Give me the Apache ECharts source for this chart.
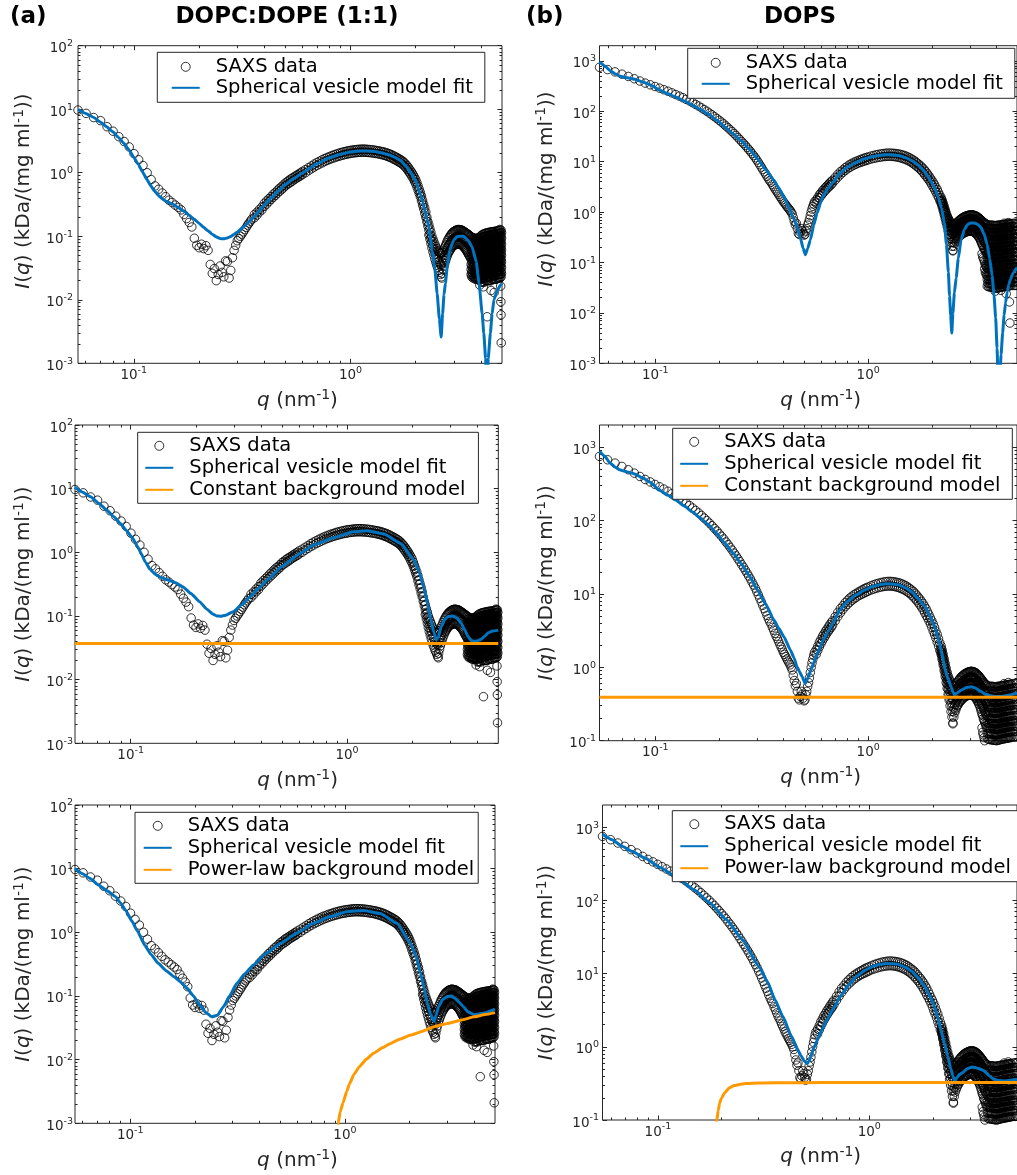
<!DOCTYPE html>
<html><head><meta charset="utf-8">
<script src="https://cdn.jsdelivr.net/npm/echarts@6/dist/echarts.min.js"></script>
<style>html,body{margin:0;padding:0;background:#fff}#c{width:1017px;height:1175px}</style>
</head><body><div id="c"></div><script>
// ---------------- titles / legend names ----------------
const panelTags = ['(a)', '(b)'];
const columnTitles = ['DOPC:DOPE (1:1)', 'DOPS'];
const NAME_DATA = 'SAXS data', NAME_FIT = 'Spherical vesicle model fit';
const NAME_CONST = 'Constant background model', NAME_POW = 'Power-law background model';

// ---------------- tick values ----------------
const xMajorTicks = [0.1, 1];
const xMinorTicks = [0.06,0.07,0.08,0.09,0.2,0.3,0.4,0.5,0.6,0.7,0.8,0.9,2,3,4,5];
const yMajorA = [0.001,0.01,0.1,1,10,100];
const yMajorB1 = [0.001,0.01,0.1,1,10,100,1000];
const yMajorB23 = [0.1,1,10,100,1000];
const minorMult = [2,3,4,5,6,7,8,9];

// ---------------- SAXS data, DOPC:DOPE (1:1) ----------------
const saxsA_low = [[0.0553,9.7],[0.0603,8.6],[0.0653,7.4],[0.0703,6.6],[0.0753,5.3],[0.0803,4.5],[0.0853,3.7],[0.0903,3.1],[0.0953,2.55],[0.1003,2.0],[0.1053,1.6],[0.1103,1.3],[0.1153,1.0],[0.1203,0.78],[0.1253,0.62],[0.1303,0.55],[0.1353,0.48],[0.1403,0.42],[0.1453,0.37],[0.1503,0.34],[0.1553,0.31],[0.1603,0.285],[0.1653,0.26],[0.1703,0.22],[0.1753,0.19],[0.1803,0.165],[0.1853,0.14],[0.1903,0.093],[0.1953,0.072],[0.2003,0.066],[0.2053,0.075],[0.2103,0.064],[0.2153,0.071],[0.2203,0.06],[0.2253,0.036],[0.2303,0.026],[0.2353,0.031],[0.2403,0.02],[0.2453,0.025],[0.2503,0.034],[0.2553,0.027],[0.2603,0.023],[0.2653,0.041],[0.2703,0.04],[0.2753,0.022],[0.2803,0.029],[0.2853,0.046],[0.2903,0.06],[0.2953,0.072],[0.3003,0.085],[0.3053,0.092],[0.3103,0.1],[0.3153,0.108],[0.3203,0.117],[0.3253,0.127],[0.3303,0.138],[0.3353,0.15],[0.3403,0.161],[0.3453,0.173],[0.3503,0.186]];
// rows: [q, upper value, lower value]
const saxsA_mid = [[0.36,0.22,0.195],[0.37,0.24,0.215],[0.38,0.265,0.24],[0.39,0.29,0.26],[0.40,0.33,0.295],[0.41,0.36,0.32],[0.42,0.39,0.35],[0.43,0.42,0.38],[0.44,0.46,0.41],[0.45,0.49,0.44],[0.46,0.53,0.475],[0.47,0.57,0.51],[0.48,0.6,0.54],[0.49,0.64,0.575],[0.50,0.69,0.62],[0.51,0.72,0.65],[0.52,0.76,0.68],[0.53,0.8,0.71],[0.54,0.83,0.74],[0.55,0.86,0.78],[0.56,0.9,0.81],[0.57,0.93,0.84],[0.58,0.97,0.87],[0.59,1.0,0.9],[0.60,1.05,0.94],[0.62,1.12,1.0],[0.64,1.2,1.08],[0.66,1.28,1.15],[0.68,1.37,1.23],[0.70,1.45,1.3],[0.72,1.52,1.37],[0.74,1.6,1.43],[0.76,1.67,1.5],[0.78,1.74,1.56],[0.80,1.8,1.62],[0.82,1.86,1.67],[0.84,1.92,1.72],[0.86,1.97,1.77],[0.88,2.02,1.81],[0.90,2.07,1.85],[0.92,2.11,1.89],[0.94,2.15,1.93],[0.96,2.19,1.96],[0.98,2.22,1.99],[1.00,2.25,2.01],[1.02,2.27,2.04],[1.04,2.29,2.06],[1.06,2.31,2.07],[1.08,2.33,2.09],[1.10,2.34,2.1],[1.12,2.35,2.1],[1.14,2.35,2.11],[1.16,2.35,2.1],[1.18,2.34,2.1],[1.20,2.33,2.09],[1.225,2.32,2.07],[1.25,2.3,2.06],[1.275,2.28,2.04],[1.30,2.26,2.02],[1.325,2.23,2.0],[1.35,2.2,1.98],[1.375,2.18,1.95],[1.40,2.15,1.92],[1.425,2.12,1.89],[1.45,2.08,1.86],[1.475,2.04,1.82],[1.50,2.0,1.78],[1.525,1.96,1.74],[1.55,1.91,1.7],[1.575,1.86,1.65],[1.60,1.81,1.61],[1.625,1.76,1.56],[1.65,1.71,1.52],[1.675,1.66,1.47],[1.70,1.61,1.43],[1.725,1.56,1.38],[1.75,1.5,1.33],[1.775,1.43,1.27],[1.80,1.36,1.2],[1.825,1.29,1.13],[1.85,1.21,1.06],[1.875,1.13,0.99],[1.90,1.06,0.93],[1.925,0.99,0.86],[1.95,0.92,0.8],[1.975,0.85,0.73],[2.00,0.78,0.67],[2.025,0.7,0.6],[2.05,0.62,0.53],[2.075,0.55,0.47],[2.10,0.49,0.42],[2.125,0.43,0.36],[2.15,0.37,0.31],[2.175,0.32,0.27],[2.20,0.28,0.23],[2.225,0.24,0.2],[2.25,0.2,0.17],[2.275,0.17,0.145]];
// rows: [q, values read across the noisy band]
const saxsA_high = [[2.300,0.15,0.125,0.105],[2.325,0.13,0.108,0.09],[2.350,0.115,0.094,0.077],[2.375,0.1,0.082,0.066],[2.400,0.09,0.072,0.057],[2.425,0.082,0.064,0.05],[2.450,0.075,0.057,0.044],[2.475,0.069,0.052,0.039],[2.500,0.064,0.047,0.035],[2.525,0.06,0.043,0.032],[2.550,0.057,0.04,0.029],[2.575,0.055,0.038,0.027],[2.600,0.054,0.036,0.025],[2.625,0.054,0.035,0.023],[2.650,0.056,0.038,0.026],[2.675,0.059,0.042,0.03],[2.700,0.063,0.046,0.034],[2.725,0.068,0.05,0.038],[2.750,0.073,0.055,0.042],[2.775,0.079,0.06,0.046],[2.800,0.085,0.065,0.05],[2.825,0.09,0.07,0.054],[2.850,0.095,0.074,0.057],[2.875,0.1,0.078,0.06],[2.900,0.105,0.082,0.063],[2.925,0.109,0.085,0.066],[2.950,0.113,0.088,0.068],[2.975,0.116,0.09,0.07],[3.000,0.119,0.093,0.072],[3.025,0.121,0.095,0.073],[3.050,0.123,0.096,0.074],[3.075,0.125,0.097,0.075],[3.100,0.126,0.098,0.075],[3.125,0.127,0.099,0.076],[3.150,0.128,0.099,0.076],[3.175,0.127,0.099,0.075],[3.200,0.126,0.098,0.075],[3.225,0.126,0.097,0.074],[3.250,0.125,0.096,0.073],[3.275,0.124,0.095,0.072],[3.300,0.122,0.093,0.07],[3.325,0.12,0.091,0.068],[3.350,0.118,0.089,0.066],[3.375,0.116,0.087,0.064],[3.400,0.114,0.084,0.062],[3.425,0.112,0.082,0.06],[3.450,0.11,0.079,0.057],[3.475,0.108,0.077,0.055],[3.500,0.106,0.074,0.052],[3.525,0.104,0.072,0.05],[3.550,0.102,0.07,0.048],[3.575,0.1,0.068,0.046],
[3.600,0.098,0.08,0.066,0.054,0.044,0.036,0.03,0.025],[3.625,0.09,0.073,0.06,0.049,0.04,0.033,0.027,0.023],[3.650,0.096,0.079,0.064,0.052,0.043,0.035,0.029,0.024],[3.675,0.088,0.072,0.059,0.048,0.039,0.032,0.026,0.022],[3.700,0.094,0.077,0.063,0.051,0.042,0.034,0.028,0.023],[3.725,0.087,0.071,0.058,0.047,0.038,0.031,0.026,0.022],[3.750,0.093,0.076,0.062,0.05,0.041,0.034,0.028,0.023],[3.775,0.086,0.07,0.057,0.047,0.038,0.031,0.025,0.021],[3.800,0.092,0.075,0.061,0.05,0.041,0.033,0.027,0.022],[3.825,0.086,0.07,0.057,0.046,0.038,0.031,0.025,0.021],[3.850,0.093,0.076,0.062,0.05,0.041,0.033,0.027,0.022],[3.875,0.087,0.071,0.058,0.047,0.038,0.031,0.025,0.021],[3.900,0.095,0.077,0.063,0.051,0.042,0.034,0.028,0.022],[3.925,0.089,0.072,0.059,0.048,0.039,0.032,0.026,0.021],[3.950,0.098,0.08,0.065,0.053,0.043,0.035,0.028,0.022],[3.975,0.091,0.074,0.06,0.049,0.04,0.032,0.026,0.021],
[4.000,0.102,0.083,0.068,0.055,0.045,0.036,0.029,0.023,0.019],[4.025,0.094,0.077,0.062,0.051,0.041,0.034,0.027,0.021],[4.050,0.106,0.086,0.07,0.057,0.046,0.037,0.03,0.024,0.019],[4.075,0.097,0.079,0.064,0.052,0.042,0.034,0.028,0.022],[4.100,0.108,0.088,0.071,0.058,0.047,0.038,0.031,0.025,0.019],[4.125,0.099,0.08,0.065,0.053,0.043,0.035,0.028,0.022],[4.150,0.11,0.089,0.072,0.059,0.048,0.039,0.031,0.025,0.019],[4.175,0.1,0.081,0.066,0.054,0.044,0.035,0.028,0.022],[4.200,0.112,0.091,0.074,0.06,0.049,0.039,0.032,0.025,0.02],[4.225,0.101,0.082,0.067,0.054,0.044,0.036,0.029,0.023],[4.250,0.113,0.092,0.075,0.061,0.049,0.04,0.032,0.025,0.02],[4.275,0.102,0.083,0.067,0.055,0.044,0.036,0.029,0.023],[4.300,0.114,0.093,0.075,0.061,0.05,0.04,0.032,0.026,0.02],[4.325,0.103,0.084,0.068,0.055,0.045,0.036,0.029,0.023],[4.350,0.115,0.093,0.076,0.062,0.05,0.04,0.033,0.026,0.02],[4.375,0.104,0.085,0.069,0.056,0.045,0.037,0.03,0.023],[4.400,0.116,0.094,0.077,0.062,0.05,0.041,0.033,0.026,0.02],[4.425,0.105,0.085,0.069,0.056,0.046,0.037,0.03,0.023],[4.450,0.117,0.095,0.077,0.063,0.051,0.041,0.033,0.026,0.02],[4.475,0.106,0.086,0.07,0.057,0.046,0.037,0.03,0.024],[4.500,0.118,0.096,0.078,0.063,0.051,0.042,0.034,0.027,0.021],[4.525,0.107,0.087,0.071,0.058,0.047,0.038,0.03,0.024],[4.550,0.118,0.096,0.078,0.064,0.052,0.042,0.034,0.027,0.021],[4.575,0.108,0.088,0.071,0.058,0.047,0.038,0.031,0.024],[4.600,0.119,0.097,0.079,0.064,0.052,0.042,0.034,0.027,0.021],[4.625,0.108,0.088,0.072,0.058,0.047,0.038,0.031,0.024],[4.650,0.12,0.097,0.079,0.064,0.052,0.042,0.034,0.027,0.021],[4.675,0.109,0.089,0.072,0.059,0.048,0.039,0.031,0.024],[4.700,0.12,0.098,0.08,0.065,0.053,0.043,0.035,0.027,0.021],[4.725,0.11,0.089,0.073,0.059,0.048,0.039,0.031,0.025],[4.750,0.121,0.099,0.08,0.065,0.053,0.043,0.035,0.028,0.022],[4.775,0.11,0.09,0.073,0.059,0.048,0.039,0.032,0.025],[4.800,0.122,0.099,0.081,0.066,0.053,0.043,0.035,0.028,0.022],[4.825,0.111,0.09,0.073,0.06,0.048,0.039,0.032,0.025],[4.850,0.123,0.1,0.081,0.066,0.054,0.044,0.035,0.028,0.022],[4.875,0.112,0.091,0.074,0.06,0.049,0.04,0.032,0.025],[4.900,0.124,0.101,0.082,0.067,0.054,0.044,0.035,0.028,0.022],[4.925,0.113,0.092,0.075,0.061,0.049,0.04,0.032,0.025],[4.950,0.125,0.102,0.083,0.067,0.055,0.044,0.036,0.028,0.023],[4.975,0.114,0.093,0.075,0.061,0.05,0.04,0.032,0.026]];
const saxsA_out = [[2.64,0.022],[3.74,0.03],[3.95,0.017],[4.1,0.016],[4.27,0.0054],[4.45,0.014],[4.6,0.013],[4.88,0.128],[4.93,0.0164],[4.94,0.0093],[4.95,0.0058],[4.96,0.0021]];

// ---------------- SAXS data, DOPS ----------------
const saxsB_low = [[0.0547,746],[0.0597,672],[0.0647,605],[0.0697,545],[0.0747,491],[0.0797,442],[0.0847,398],[0.0897,362],[0.0947,335],[0.0997,310],[0.1047,288],[0.1097,268],[0.1147,250],[0.1197,232],[0.1247,215],[0.1297,200],[0.1347,186],[0.1397,172],[0.1447,160],[0.1497,148],[0.1547,137],[0.1597,127],[0.1647,117],[0.1697,108],[0.1747,100],[0.1797,92],[0.1847,85],[0.1897,78],[0.1947,72],[0.1997,66],[0.2047,61],[0.2097,56],[0.2147,51],[0.2197,47],[0.2247,43],[0.2297,39.5],[0.2347,36],[0.2397,33],[0.2447,30],[0.2497,27.5],[0.2547,25],[0.2597,23],[0.2647,21],[0.2697,19.2],[0.2747,17.5],[0.2797,16],[0.2847,14.5],[0.2897,13.2],[0.2947,12],[0.2997,10.8],[0.3047,9.7],[0.3097,8.7],[0.3147,7.8],[0.3197,7.0],[0.3247,6.3],[0.3297,5.7],[0.3347,5.1],[0.3397,4.6],[0.3447,4.2],[0.3497,3.9],[0.3547,3.5],[0.3597,3.2],[0.3647,2.9],[0.3697,2.65],[0.3747,2.45],[0.3797,2.25],[0.3847,2.05],[0.3897,1.9],[0.3947,1.75],[0.3997,1.6],[0.4047,1.5],[0.4097,1.4],[0.4147,1.3],[0.4197,1.22],[0.4247,1.15],[0.4297,1.08],[0.4347,1.0],[0.4397,0.92],[0.4447,0.78],[0.4497,0.66],[0.4547,0.56],[0.4597,0.6],[0.4647,0.47],[0.4697,0.38],[0.4747,0.36],[0.4797,0.4],[0.4847,0.47],[0.4897,0.43],[0.4947,0.38],[0.4997,0.35],[0.5047,0.36],[0.5097,0.42],[0.5147,0.47],[0.5197,0.55],[0.5247,0.62],[0.5297,0.72],[0.5347,0.85],[0.5397,1.0],[0.5447,1.15],[0.5497,1.3],[0.5547,1.45],[0.5597,1.6]];
const saxsB_mid = [[0.57,1.75,1.5],[0.58,1.95,1.7],[0.59,2.2,1.9],[0.60,2.4,2.1],[0.61,2.65,2.3],[0.62,2.85,2.5],[0.63,3.1,2.7],[0.64,3.3,2.9],[0.65,3.55,3.1],[0.66,3.8,3.3],[0.67,4.05,3.5],[0.68,4.3,3.75],[0.70,4.9,4.3],[0.72,5.6,4.9],[0.74,6.3,5.5],[0.76,6.9,6.1],[0.78,7.6,6.7],[0.80,8.2,7.2],[0.82,8.8,7.7],[0.84,9.3,8.2],[0.86,9.8,8.6],[0.88,10.2,9.0],[0.90,10.6,9.4],[0.92,11.0,9.7],[0.94,11.4,10.0],[0.96,11.8,10.3],[0.98,12.1,10.6],[1.00,12.4,10.9],[1.03,12.9,11.3],[1.06,13.3,11.6],[1.09,13.7,11.9],[1.12,14.0,12.2],[1.15,14.3,12.4],[1.18,14.5,12.6],[1.21,14.7,12.7],[1.24,14.8,12.8],[1.27,14.8,12.8],[1.30,14.7,12.7],[1.33,14.6,12.6],[1.36,14.4,12.4],[1.39,14.2,12.2],[1.42,13.9,11.9],[1.45,13.6,11.6],[1.48,13.2,11.3],[1.51,12.8,10.9],[1.54,12.3,10.5],[1.57,11.8,10.1],[1.60,11.3,9.6],[1.63,10.8,9.1],[1.66,10.2,8.6],[1.69,9.6,8.1],[1.72,9.0,7.6],[1.75,8.5,7.1],[1.78,7.9,6.6],[1.81,7.4,6.1],[1.84,6.8,5.6],[1.87,6.3,5.1],[1.90,5.7,4.7],[1.93,5.2,4.3],[1.96,4.7,3.9],[1.99,4.3,3.5],[2.02,3.9,3.1],[2.05,3.5,2.8],[2.08,3.1,2.5],[2.11,2.8,2.2],[2.14,2.45,1.95],[2.17,2.15,1.7]];
const saxsB_high = [[2.200,1.95,1.82,1.7,1.6,1.5],[2.225,1.72,1.6,1.48,1.38,1.28],[2.250,1.5,1.38,1.27,1.17,1.08],[2.275,1.3,1.19,1.08,0.99,0.9],[2.300,1.12,1.02,0.92,0.83,0.75],[2.325,0.97,0.87,0.78,0.7,0.62],[2.350,0.85,0.75,0.67,0.59,0.52],[2.375,0.76,0.66,0.58,0.5,0.43],[2.400,0.7,0.6,0.51,0.43,0.36],[2.425,0.65,0.55,0.46,0.37,0.3],[2.450,0.61,0.51,0.42,0.33,0.25],[2.475,0.58,0.47,0.38,0.29,0.21],[2.500,0.56,0.45,0.36,0.25,0.175],[2.525,0.56,0.46,0.37,0.28,0.21],[2.550,0.57,0.47,0.39,0.31,0.24],[2.575,0.59,0.49,0.41,0.33,0.26],[2.600,0.61,0.51,0.42,0.35,0.28],[2.625,0.63,0.53,0.44,0.37,0.3],[2.650,0.66,0.55,0.46,0.38,0.31],[2.675,0.68,0.57,0.48,0.4,0.33],[2.700,0.71,0.6,0.5,0.41,0.34],[2.725,0.73,0.61,0.51,0.42,0.35],[2.750,0.75,0.63,0.53,0.44,0.36],[2.775,0.77,0.65,0.54,0.45,0.37],[2.800,0.79,0.66,0.55,0.46,0.38],[2.825,0.8,0.67,0.56,0.47,0.39],[2.850,0.82,0.69,0.57,0.48,0.4],[2.875,0.83,0.7,0.58,0.48,0.4],[2.900,0.84,0.7,0.59,0.49,0.41],[2.925,0.85,0.71,0.6,0.5,0.41],[2.950,0.86,0.72,0.6,0.5,0.42],[2.975,0.87,0.73,0.61,0.51,0.42],[3.000,0.87,0.73,0.61,0.51,0.42],[3.025,0.88,0.73,0.61,0.51,0.42],[3.050,0.88,0.73,0.61,0.51,0.42],[3.075,0.88,0.73,0.61,0.51,0.42],[3.100,0.87,0.72,0.6,0.5,0.41],[3.125,0.87,0.72,0.6,0.5,0.41],[3.150,0.86,0.71,0.59,0.49,0.4],[3.175,0.85,0.7,0.58,0.48,0.39],[3.200,0.84,0.69,0.57,0.47,0.38],[3.225,0.82,0.68,0.56,0.46,0.37],[3.250,0.81,0.66,0.54,0.44,0.35],[3.275,0.79,0.65,0.53,0.43,0.34],[3.300,0.77,0.63,0.51,0.41,0.32],[3.325,0.75,0.61,0.49,0.39,0.31],[3.350,0.73,0.59,0.47,0.37,0.29],[3.375,0.71,0.57,0.45,0.35,0.27],[3.400,0.69,0.55,0.43,0.33,0.25],[3.425,0.67,0.53,0.41,0.31,0.23,0.15],[3.450,0.65,0.51,0.4,0.3,0.22,0.13],[3.475,0.63,0.49,0.38,0.28,0.2,0.12],[3.500,0.62,0.48,0.37,0.27,0.19,0.11],[3.525,0.6,0.46,0.35,0.25,0.18,0.1,0.075],[3.550,0.59,0.45,0.34,0.24,0.17,0.09,0.065],[3.575,0.58,0.44,0.33,0.23,0.16,0.085,0.06],[3.600,0.57,0.43,0.32,0.22,0.15,0.08,0.055],
[3.625,0.48,0.34,0.245,0.175,0.125,0.09,0.064,0.046,0.034],[3.650,0.56,0.4,0.29,0.21,0.15,0.105,0.075,0.054,0.039],[3.675,0.47,0.34,0.24,0.17,0.124,0.089,0.063,0.045,0.033],[3.700,0.55,0.4,0.29,0.2,0.148,0.104,0.074,0.053,0.038],[3.725,0.48,0.34,0.245,0.175,0.125,0.09,0.063,0.045,0.033],[3.750,0.55,0.39,0.28,0.2,0.147,0.103,0.073,0.052,0.038],[3.775,0.47,0.33,0.24,0.17,0.123,0.088,0.062,0.044,0.032],[3.800,0.55,0.39,0.28,0.2,0.146,0.103,0.073,0.052,0.037],[3.825,0.48,0.34,0.24,0.172,0.124,0.088,0.062,0.044,0.032],[3.850,0.55,0.39,0.28,0.2,0.145,0.102,0.072,0.051,0.037],[3.875,0.47,0.33,0.24,0.17,0.122,0.087,0.061,0.044,0.032],[3.900,0.54,0.39,0.28,0.2,0.144,0.101,0.072,0.051,0.037],[3.925,0.47,0.33,0.24,0.17,0.122,0.087,0.061,0.043,0.031],[3.950,0.54,0.38,0.28,0.2,0.144,0.101,0.071,0.05,0.036],[3.975,0.46,0.33,0.235,0.168,0.12,0.086,0.06,0.043,0.031],[4.000,0.54,0.38,0.28,0.2,0.143,0.1,0.071,0.05,0.036],[4.025,0.47,0.33,0.24,0.17,0.121,0.086,0.061,0.043,0.031],[4.050,0.55,0.39,0.28,0.2,0.144,0.101,0.071,0.05,0.036],[4.075,0.47,0.33,0.24,0.17,0.122,0.087,0.061,0.044,0.031],[4.100,0.55,0.39,0.28,0.2,0.145,0.102,0.072,0.051,0.037],[4.125,0.48,0.34,0.24,0.172,0.123,0.088,0.062,0.044,0.032],[4.150,0.55,0.39,0.28,0.2,0.146,0.103,0.073,0.051,0.037],[4.175,0.48,0.34,0.245,0.174,0.124,0.089,0.063,0.045,0.032],[4.200,0.56,0.4,0.29,0.2,0.147,0.104,0.073,0.052,0.037],[4.225,0.48,0.34,0.245,0.175,0.125,0.09,0.063,0.045,0.033],[4.250,0.56,0.4,0.29,0.21,0.148,0.105,0.074,0.052,0.038],[4.275,0.49,0.35,0.25,0.176,0.126,0.09,0.064,0.046,0.033],[4.300,0.56,0.4,0.29,0.21,0.149,0.106,0.075,0.053,0.038],[4.325,0.49,0.35,0.25,0.177,0.127,0.091,0.064,0.046,0.033],[4.350,0.57,0.41,0.29,0.21,0.15,0.106,0.075,0.053,0.038],[4.375,0.49,0.35,0.25,0.178,0.128,0.091,0.065,0.046,0.033],[4.400,0.57,0.41,0.29,0.21,0.151,0.107,0.076,0.054,0.039],[4.425,0.5,0.35,0.25,0.179,0.128,0.092,0.065,0.047,0.034],[4.450,0.57,0.41,0.3,0.21,0.152,0.108,0.076,0.054,0.039],[4.475,0.5,0.36,0.255,0.18,0.129,0.092,0.066,0.047,0.034],[4.500,0.58,0.41,0.3,0.21,0.153,0.108,0.077,0.055,0.039],[4.525,0.5,0.36,0.255,0.181,0.13,0.093,0.066,0.047,0.034],[4.550,0.58,0.42,0.3,0.21,0.154,0.109,0.077,0.055,0.04],[4.575,0.51,0.36,0.26,0.182,0.131,0.093,0.067,0.048,0.034],[4.600,0.58,0.42,0.3,0.215,0.155,0.11,0.078,0.055,0.04],[4.625,0.51,0.36,0.26,0.183,0.131,0.094,0.067,0.048,0.035],[4.650,0.59,0.42,0.3,0.215,0.155,0.11,0.078,0.056,0.04],[4.675,0.51,0.37,0.26,0.184,0.132,0.094,0.067,0.048,0.035],[4.700,0.59,0.42,0.3,0.216,0.156,0.111,0.079,0.056,0.04],[4.750,0.52,0.37,0.26,0.185,0.133,0.095,0.068,0.048,0.035],[4.800,0.6,0.43,0.31,0.218,0.157,0.112,0.079,0.056,0.041],[4.850,0.52,0.37,0.265,0.186,0.134,0.095,0.068,0.049,0.035],[4.900,0.6,0.43,0.31,0.22,0.158,0.112,0.08,0.057,0.041],[4.950,0.52,0.37,0.265,0.187,0.134,0.096,0.068,0.049,0.035],[5.000,0.6,0.43,0.31,0.22,0.158,0.113,0.08,0.057,0.041]];
const saxsB_out = [[2.5,0.17],[3.95,0.027],[4.2,0.028],[4.35,0.6],[4.45,0.024],[4.55,0.62],[4.61,0.0165],[4.63,0.0063]];

// ---------------- model fits and backgrounds ----------------
const fitA1 = [[0.0553,9.9],[0.06,8.6],[0.065,7.5],[0.07,6.3],[0.075,5.3],[0.08,4.4],[0.085,3.6],[0.09,2.9],[0.095,2.3],[0.1,1.75],[0.105,1.35],[0.11,1.02],[0.115,0.78],[0.12,0.62],[0.125,0.51],[0.13,0.44],[0.135,0.39],[0.14,0.36],[0.15,0.325],[0.16,0.285],[0.17,0.25],[0.18,0.215],[0.19,0.185],[0.2,0.16],[0.21,0.138],[0.22,0.122],[0.23,0.108],[0.24,0.098],[0.25,0.092],[0.26,0.091],[0.27,0.094],[0.28,0.099],[0.29,0.107],[0.3,0.116],[0.32,0.14],[0.34,0.168],[0.36,0.205],[0.38,0.25],[0.4,0.31],[0.43,0.4],[0.46,0.5],[0.5,0.65],[0.55,0.82],[0.6,0.99],[0.65,1.18],[0.7,1.38],[0.8,1.72],[0.9,1.96],[1.0,2.12],[1.1,2.2],[1.2,2.2],[1.3,2.15],[1.4,2.05],[1.5,1.92],[1.6,1.76],[1.7,1.57],[1.8,1.28],[1.9,1.0],[2.0,0.74],[2.05,0.58],[2.1,0.46],[2.15,0.35],[2.2,0.26],[2.25,0.19],[2.3,0.135],[2.38,0.061],[2.45,0.03],[2.51,0.0126],[2.57,0.005],[2.62,0.0026],[2.66,0.006],[2.7,0.012],[2.74,0.018],[2.8,0.035],[2.87,0.061],[3.0,0.088],[3.1,0.098],[3.2,0.1],[3.33,0.1],[3.5,0.085],[3.64,0.068],[3.8,0.04],[3.92,0.018],[4.05,0.006],[4.12,0.003],[4.2,0.0012],[4.26,0.0003],[4.32,0.0012],[4.42,0.003],[4.5,0.006],[4.59,0.01],[4.75,0.014],[4.93,0.0172],[5.0,0.018]];
const fitA2 = [[0.0553,10.5],[0.06,8.8],[0.065,7.5],[0.0712,5.9],[0.077,4.7],[0.0835,3.63],[0.09,2.8],[0.095,2.25],[0.1018,1.7],[0.108,1.2],[0.112,0.95],[0.117,0.7],[0.123,0.54],[0.13,0.45],[0.14,0.395],[0.15,0.365],[0.16,0.335],[0.174,0.289],[0.19,0.225],[0.208,0.168],[0.225,0.128],[0.24,0.107],[0.25,0.1],[0.26,0.099],[0.275,0.103],[0.298,0.117],[0.325,0.15],[0.357,0.201],[0.39,0.27],[0.427,0.367],[0.5,0.6],[0.607,0.96],[0.7,1.3],[0.867,1.7],[1.07,2.11],[1.24,2.19],[1.48,1.94],[1.77,1.38],[2.04,0.76],[2.15,0.5],[2.27,0.27],[2.36,0.15],[2.44,0.0865],[2.52,0.055],[2.58,0.042],[2.64,0.046],[2.72,0.068],[2.82,0.088],[2.93,0.098],[3.08,0.1],[3.22,0.093],[3.37,0.077],[3.5,0.06],[3.63,0.047],[3.76,0.041],[3.89,0.04],[4.03,0.041],[4.17,0.043],[4.32,0.048],[4.48,0.054],[4.7,0.058],[5.0,0.06]];
const bgA2 = [[0.0553,0.037],[5.0,0.037]];
const fitA3 = [[0.0553,10.0],[0.06,8.3],[0.065,7.0],[0.0714,5.5],[0.078,4.5],[0.0854,3.63],[0.09,2.9],[0.095,2.25],[0.1018,1.5],[0.108,1.05],[0.117,0.62],[0.125,0.45],[0.135,0.326],[0.147,0.25],[0.16,0.201],[0.172,0.165],[0.184,0.132],[0.197,0.1],[0.212,0.07],[0.225,0.055],[0.24,0.047],[0.255,0.05],[0.272,0.068],[0.29,0.1],[0.314,0.158],[0.34,0.22],[0.375,0.307],[0.43,0.47],[0.5,0.67],[0.6,0.98],[0.71,1.38],[0.85,1.75],[1.02,2.11],[1.22,2.2],[1.46,1.97],[1.75,1.38],[2.02,0.67],[2.14,0.42],[2.25,0.227],[2.34,0.13],[2.42,0.077],[2.5,0.052],[2.6,0.04],[2.66,0.05],[2.73,0.068],[2.85,0.088],[3.0,0.098],[3.12,0.1],[3.24,0.093],[3.4,0.08],[3.56,0.068],[3.75,0.056],[4.0,0.051],[4.2,0.052],[4.47,0.054],[4.75,0.058],[5.0,0.062]];
const bgA3 = [[0.915,0.0005],[0.93,0.001],[0.95,0.0015],[0.98,0.0021],[1.02,0.0032],[1.055,0.0043],[1.1,0.0058],[1.17,0.0078],[1.26,0.0102],[1.36,0.0126],[1.5,0.0155],[1.63,0.018],[1.8,0.021],[2.03,0.0244],[2.3,0.028],[2.6,0.033],[3.0,0.037],[3.5,0.042],[4.0,0.047],[4.5,0.051],[5.0,0.0547]];
const fitB1 = [[0.0547,950],[0.058,790],[0.0613,640],[0.065,550],[0.068,500],[0.072,470],[0.0758,452],[0.08,432],[0.0874,382],[0.095,332],[0.104,268],[0.114,225],[0.1246,192],[0.137,160],[0.149,133],[0.163,108],[0.178,87],[0.195,66],[0.212,49],[0.232,36],[0.253,26],[0.277,17.5],[0.302,11.3],[0.33,7.0],[0.361,4.3],[0.38,3.0],[0.403,2.0],[0.425,1.2],[0.449,0.71],[0.465,0.48],[0.48,0.31],[0.495,0.19],[0.507,0.143],[0.52,0.19],[0.535,0.28],[0.555,0.55],[0.575,0.95],[0.6,1.6],[0.615,2.1],[0.65,3.0],[0.684,3.9],[0.734,5.8],[0.8,7.8],[0.877,9.7],[0.96,11.4],[1.05,12.6],[1.13,13.4],[1.21,13.7],[1.3,13.6],[1.39,13.2],[1.5,12.0],[1.6,10.6],[1.7,8.9],[1.8,7.1],[1.9,5.3],[1.97,4.1],[2.05,3.0],[2.13,2.0],[2.21,1.2],[2.28,0.6],[2.33,0.23],[2.38,0.065],[2.41,0.022],[2.44,0.009],[2.47,0.004],[2.5,0.01],[2.54,0.025],[2.59,0.05],[2.65,0.12],[2.73,0.28],[2.83,0.45],[2.93,0.57],[3.04,0.61],[3.15,0.61],[3.27,0.57],[3.38,0.5],[3.5,0.37],[3.62,0.23],[3.72,0.12],[3.82,0.055],[3.9,0.022],[3.97,0.008],[4.03,0.002],[4.08,0.0004],[4.14,0.0004],[4.21,0.0015],[4.28,0.004],[4.35,0.009],[4.42,0.016],[4.5,0.026],[4.58,0.037],[4.65,0.046],[4.8,0.062],[5.0,0.08]];
const fitB2 = [[0.0547,880],[0.058,750],[0.0613,605],[0.065,530],[0.068,490],[0.072,468],[0.0758,452],[0.08,430],[0.0874,378],[0.095,330],[0.104,262],[0.114,222],[0.1246,190],[0.137,158],[0.149,132],[0.163,108],[0.178,87],[0.195,66],[0.212,49],[0.232,36],[0.253,26],[0.277,17.5],[0.302,11.3],[0.33,7.2],[0.361,4.4],[0.38,3.4],[0.402,2.6],[0.431,1.72],[0.448,1.35],[0.463,1.02],[0.477,0.86],[0.489,0.75],[0.506,0.6],[0.515,0.66],[0.524,0.75],[0.538,0.92],[0.553,1.13],[0.58,1.6],[0.615,2.36],[0.65,3.1],[0.684,4.0],[0.734,6.0],[0.8,7.9],[0.877,9.7],[0.96,11.3],[1.05,12.6],[1.13,13.3],[1.21,13.7],[1.3,13.6],[1.39,13.3],[1.5,12.1],[1.6,10.7],[1.72,8.6],[1.85,6.7],[1.95,5.0],[2.05,3.6],[2.13,2.5],[2.2,1.72],[2.26,1.2],[2.3,0.92],[2.38,0.68],[2.45,0.545],[2.5,0.46],[2.55,0.42],[2.62,0.45],[2.74,0.49],[2.9,0.53],[3.05,0.545],[3.2,0.52],[3.37,0.47],[3.55,0.43],[3.76,0.41],[4.0,0.4],[4.18,0.4],[4.45,0.41],[4.67,0.42],[5.0,0.45]];
const bgB2 = [[0.0547,0.39],[5.0,0.39]];
const fitB3 = [[0.0547,800],[0.0608,672],[0.0677,545],[0.0753,466],[0.0868,378],[0.1036,276],[0.1237,202],[0.1478,140],[0.1764,92],[0.2106,54.5],[0.2515,29],[0.3,12.6],[0.33,7.7],[0.358,4.4],[0.39,2.6],[0.428,1.4],[0.455,0.95],[0.476,0.75],[0.493,0.64],[0.508,0.59],[0.518,0.63],[0.53,0.75],[0.548,0.98],[0.57,1.26],[0.6,1.75],[0.632,2.36],[0.68,3.4],[0.73,4.9],[0.8,7.0],[0.872,9.2],[0.96,11.2],[1.04,12.6],[1.12,13.3],[1.2,13.7],[1.29,13.6],[1.38,13.3],[1.48,12.2],[1.59,10.7],[1.7,8.8],[1.83,6.7],[1.93,5.0],[2.03,3.6],[2.11,2.5],[2.18,1.72],[2.27,1.1],[2.35,0.75],[2.43,0.5],[2.49,0.4],[2.54,0.34],[2.6,0.38],[2.68,0.42],[2.76,0.44],[2.9,0.5],[3.07,0.53],[3.25,0.51],[3.49,0.47],[3.7,0.4],[3.89,0.36],[4.1,0.345],[4.34,0.34],[4.65,0.35],[5.0,0.36]];
const bgB3 = [[0.188,0.09],[0.19,0.1],[0.193,0.135],[0.196,0.17],[0.2,0.2],[0.207,0.236],[0.218,0.276],[0.23,0.295],[0.243,0.306],[0.26,0.314],[0.28,0.318],[0.32,0.321],[0.4,0.323],[0.6,0.324],[1.0,0.325],[2.0,0.325],[5.0,0.325]];

// ---------------- build ----------------
function rowsToPoints(rows){ const out=[]; rows.forEach(r=>{ for(let k=1;k<r.length;k++) out.push([r[0], r[k]]); }); return out; }
const saxsA = saxsA_low.concat(rowsToPoints(saxsA_mid), rowsToPoints(saxsA_high), saxsA_out);
const saxsB = saxsB_low.concat(rowsToPoints(saxsB_mid), rowsToPoints(saxsB_high), saxsB_out);

const FONT = 'DejaVu Sans', INK = '#262626', BLUE = '#0072BD', ORANGE = '#FF9900';

const panels = [
 {g:[78,45.7,424,317.6], x:[0.0553,5.0], y:[0.001,100], yMajor:yMajorA, data:saxsA, fit:fitA1, bg:null, bgName:null,
  yMargin:5, yGap:42, yPad:27, xPad:15, lg:{left:157.3, top:52.3, padding:[4,12,4,13.4], gap:0}},
 {g:[599.5,45.7,424,317.6], x:[0.0547,5.0], y:[0.001,2000], yMajor:yMajorB1, data:saxsB, fit:fitB1, bg:null, bgName:null,
  yMargin:3.5, yGap:41, yPad:31, xPad:25, lg:{left:687.7, top:48.3, padding:[4,12,4,13], gap:0}},
 {g:[75,425,423.3,318.3], x:[0.0553,5.0], y:[0.001,100], yMajor:yMajorA, data:saxsA, fit:fitA2, bg:bgA2, bgName:NAME_CONST,
  yMargin:2, yGap:39, yPad:0, xPad:22, lg:{left:137.7, top:432.3, padding:[3,13,3,6.6], gap:1}},
 {g:[599.5,425,424,315.7], x:[0.0547,5.0], y:[0.1,2000], yMajor:yMajorB23, data:saxsB, fit:fitB2, bg:bgB2, bgName:NAME_CONST,
  yMargin:3.5, yGap:41, yPad:0, xPad:25, lg:{left:672.7, top:428.3, padding:[3,12,3,6.5], gap:1}},
 {g:[75,805,420,318.3], x:[0.0553,5.0], y:[0.001,100], yMajor:yMajorA, data:saxsA, fit:fitA3, bg:bgA3, bgName:NAME_POW,
  yMargin:2, yGap:39, yPad:0, xPad:25, lg:{left:135, top:812.3, padding:[3,4,3,7.7], gap:1}},
 {g:[602.5,805,421,315], x:[0.0547,5.0], y:[0.1,2000], yMajor:yMajorB23, data:saxsB, fit:fitB3, bg:bgB3, bgName:NAME_POW,
  yMargin:3.5, yGap:43.5, yPad:0, xPad:22, lg:{left:672.3, top:810.7, padding:[3,12,3,7], gap:1}}
];

const tickRich = {
  b:{fontFamily:FONT, fontSize:13.5, lineHeight:20, color:INK},
  s:{fontFamily:FONT, fontSize:9.5, lineHeight:10, verticalAlign:'top', color:INK}
};
function powLabel(v){ const e = Math.round(Math.log10(v)); return '{b|10}{s|' + e + '}'; }
function minorsFor(majors, lo, hi){
  const out=[]; majors.forEach(m=>minorMult.forEach(k=>{ const v=+(k*m).toPrecision(3); if(v>lo && v<hi) out.push(v); }));
  minorMult.forEach(k=>{ const v=+(k*majors[0]/10).toPrecision(3); if(v>lo && v<hi) out.push(v); });
  return out;
}
function nameStyle(pad){
  return {fontFamily:FONT, fontSize:20, color:INK, lineHeight:24, padding:[0,0,0,pad],
    rich:{ i:{fontFamily:FONT, fontSize:20, fontStyle:'italic', color:INK, lineHeight:24},
           s:{fontFamily:FONT, fontSize:14, color:INK, lineHeight:10, verticalAlign:'top'} } };
}
const tickLine = {color:INK, width:1};

const grid=[], xAxis=[], yAxis=[], series=[], legend=[];
panels.forEach((p,i)=>{
  grid.push({left:p.g[0], top:p.g[1], width:p.g[2], height:p.g[3], show:true, borderColor:INK, borderWidth:1, backgroundColor:'rgba(0,0,0,0)'});
  const xMin = xMinorTicks.filter(v=>v>p.x[0] && v<p.x[1]);
  const yMin = minorsFor(p.yMajor, p.y[0], p.y[1]);
  const xb = {type:'log', logBase:10, gridIndex:i, min:p.x[0], max:p.x[1], splitLine:{show:false}, axisLine:{show:false}, axisLabel:{show:false}};
  const yb = {type:'log', logBase:10, gridIndex:i, min:p.y[0], max:p.y[1], splitLine:{show:false}, axisLine:{show:false}, axisLabel:{show:false}};
  xAxis.push(Object.assign({}, xb, {position:'bottom',
    axisTick:{show:true, inside:true, length:4.5, customValues:xMajorTicks, lineStyle:tickLine},
    axisLabel:{show:true, customValues:xMajorTicks, formatter:powLabel, rich:tickRich, margin:2, color:INK},
    name:'{i|q} (nm{s|-1})', nameLocation:'middle', nameGap:25, nameTextStyle:nameStyle(p.xPad)}));
  xAxis.push(Object.assign({}, xb, {position:'bottom', axisTick:{show:true, inside:true, length:2.5, customValues:xMin, lineStyle:tickLine}}));
  xAxis.push(Object.assign({}, xb, {position:'top', axisTick:{show:true, inside:true, length:4.5, customValues:xMajorTicks, lineStyle:tickLine}}));
  xAxis.push(Object.assign({}, xb, {position:'top', axisTick:{show:true, inside:true, length:2.5, customValues:xMin, lineStyle:tickLine}}));
  yAxis.push(Object.assign({}, yb, {position:'left',
    axisTick:{show:true, inside:true, length:4.5, customValues:p.yMajor, lineStyle:tickLine},
    axisLabel:{show:true, customValues:p.yMajor, formatter:powLabel, rich:tickRich, margin:p.yMargin, color:INK, padding:[6,0,0,0]},
    name:'{i|I}({i|q}) (kDa/(mg ml{s|-1}))', nameLocation:'middle', nameGap:p.yGap, nameRotate:90, nameTextStyle:nameStyle(p.yPad)}));
  yAxis.push(Object.assign({}, yb, {position:'left', axisTick:{show:true, inside:true, length:2.5, customValues:yMin, lineStyle:tickLine}}));
  yAxis.push(Object.assign({}, yb, {position:'right', axisTick:{show:true, inside:true, length:4.5, customValues:p.yMajor, lineStyle:tickLine}}));
  yAxis.push(Object.assign({}, yb, {position:'right', axisTick:{show:true, inside:true, length:2.5, customValues:yMin, lineStyle:tickLine}}));

  const ax = {xAxisIndex:4*i, yAxisIndex:4*i};
  series.push(Object.assign({type:'scatter', name:NAME_DATA, data:p.data, symbol:'circle', symbolSize:8.5,
    itemStyle:{color:'rgba(0,0,0,0)', borderColor:'#000', borderWidth:1}, silent:true, z:2}, ax));
  series.push(Object.assign({type:'line', name:NAME_FIT, data:p.fit, symbol:'none', showSymbol:false, smooth:0.15, smoothMonotone:'x',
    lineStyle:{color:BLUE, width:3}, itemStyle:{color:BLUE}, silent:true, z:3}, ax));
  const items = [
    {name:NAME_DATA, itemStyle:{color:'rgba(0,0,0,0)', borderColor:'#000', borderWidth:1}},
    {name:NAME_FIT, itemStyle:{opacity:0}}
  ];
  if (p.bg){
    series.push(Object.assign({type:'line', name:p.bgName, data:p.bg, symbol:'none', showSymbol:false, smooth:0.15, smoothMonotone:'x',
      lineStyle:{color:ORANGE, width:3}, itemStyle:{color:ORANGE}, silent:true, z:4}, ax));
    items.push({name:p.bgName, itemStyle:{opacity:0}});
  }
  legend.push({left:p.lg.left, top:p.lg.top, orient:'vertical', data:items, backgroundColor:'#fff', borderColor:INK, borderWidth:1,
    padding:p.lg.padding, itemGap:p.lg.gap, itemWidth:28, itemHeight:9, selectedMode:false, z:10,
    textStyle:{fontFamily:FONT, fontSize:19.5, color:'#000', lineHeight:21, padding:[0,0,0,11]}});
});

const titleFont = 'bold 23px "DejaVu Sans"';
const graphic = [
  {type:'text', x:10, y:17, style:{text:panelTags[0], font:titleFont, fill:'#000', align:'left', verticalAlign:'middle'}},
  {type:'text', x:287, y:17, style:{text:columnTitles[0], font:titleFont, fill:'#000', align:'center', verticalAlign:'middle'}},
  {type:'text', x:526, y:17, style:{text:panelTags[1], font:titleFont, fill:'#000', align:'left', verticalAlign:'middle'}},
  {type:'text', x:800, y:17, style:{text:columnTitles[1], font:titleFont, fill:'#000', align:'center', verticalAlign:'middle'}}
];

const chart = echarts.init(document.getElementById('c'), null, {renderer:'canvas'});
chart.setOption({animation:false, backgroundColor:'#fff', grid, xAxis, yAxis, series, legend, graphic});
</script></body></html>
